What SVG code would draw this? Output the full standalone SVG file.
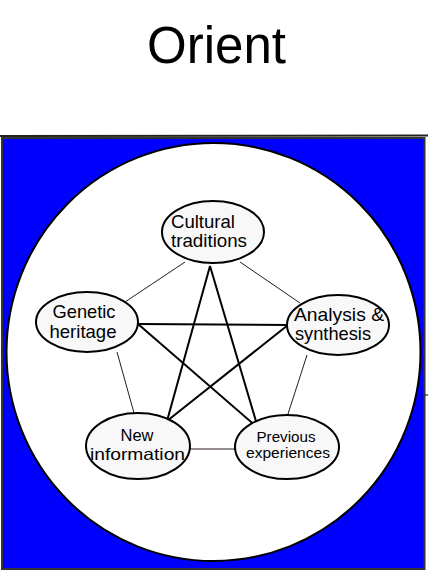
<svg xmlns="http://www.w3.org/2000/svg" width="428" height="573" viewBox="0 0 428 573">
<style>
.node ellipse{fill:#f8f8f8;stroke:#000;stroke-width:2}
.node text{font-family:"Liberation Sans",Arial,sans-serif;font-size:18.5px;fill:#000;text-anchor:middle}
.thin{stroke:#2a1a1a;stroke-width:1;fill:none}
.thick{stroke:#000;stroke-width:2;fill:none}
</style>
<rect x="0" y="0" width="428" height="573" fill="#fff"/>
<text x="216.5" y="63" font-family="Liberation Sans,Arial,sans-serif" font-size="51" text-anchor="middle">Orient</text>
<line x1="0" y1="136" x2="428" y2="135.5" stroke="#222" stroke-width="2"/>
<rect x="2" y="138" width="422.5" height="431" fill="#0000ff" stroke="#333" stroke-width="2"/>
<ellipse cx="213.5" cy="352" rx="207" ry="209" fill="#fff" stroke="#000" stroke-width="2"/>
<line x1="425" y1="395" x2="428" y2="395" stroke="#000" stroke-width="1"/>
<g id="connectors">
<line class="thin" x1="240" y1="262" x2="300" y2="303"/>
<line class="thin" x1="185" y1="262" x2="125" y2="302"/>
<line class="thin" x1="117" y1="352" x2="134" y2="413"/>
<line class="thin" x1="307" y1="355" x2="288" y2="414"/>
<line class="thin" x1="190" y1="449" x2="235" y2="449"/>
<line class="thick" x1="138" y1="324" x2="288" y2="325"/>
<line class="thick" x1="138" y1="324" x2="258" y2="428"/>
<line class="thick" x1="288" y1="325" x2="167" y2="421"/>
<line class="thick" x1="210" y1="266" x2="167" y2="421"/>
<line class="thick" x1="210" y1="266" x2="258" y2="428"/>
</g>
<g id="cultural" class="node">
<ellipse cx="213" cy="232" rx="51" ry="31"/>
<text x="203" y="228" textLength="64" lengthAdjust="spacingAndGlyphs">Cultural</text>
<text x="209" y="247" textLength="76" lengthAdjust="spacingAndGlyphs">traditions</text>
</g>
<g id="genetic" class="node">
<ellipse cx="87" cy="322" rx="51" ry="30"/>
<text x="84" y="318" textLength="63" lengthAdjust="spacingAndGlyphs">Genetic</text>
<text x="83" y="338" textLength="67" lengthAdjust="spacingAndGlyphs">heritage</text>
</g>
<g id="analysis" class="node">
<ellipse cx="338" cy="325" rx="51" ry="30"/>
<text x="339" y="321" textLength="90" lengthAdjust="spacingAndGlyphs">Analysis &amp;</text>
<text x="333" y="340" textLength="76" lengthAdjust="spacingAndGlyphs">synthesis</text>
</g>
<g id="newinfo" class="node">
<ellipse cx="138" cy="446" rx="52" ry="33"/>
<text x="137" y="441" style="font-size:16.5px" textLength="33" lengthAdjust="spacingAndGlyphs">New</text>
<text x="137.5" y="460" style="font-size:16.5px" textLength="95" lengthAdjust="spacingAndGlyphs">information</text>
</g>
<g id="previous" class="node">
<ellipse cx="287" cy="447" rx="52" ry="32"/>
<text x="286" y="441.5" style="font-size:14px" textLength="59" lengthAdjust="spacingAndGlyphs">Previous</text>
<text x="288" y="457.5" style="font-size:14px" textLength="84" lengthAdjust="spacingAndGlyphs">experiences</text>
</g>
</svg>
